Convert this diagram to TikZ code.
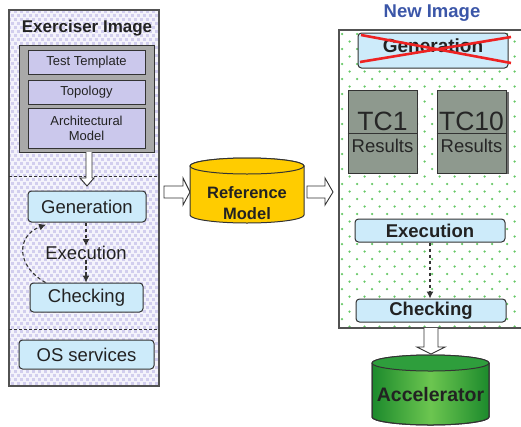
\documentclass[tikz,border=0pt]{standalone}
\usepackage{fontspec}
\setmainfont{Liberation Sans}
\usetikzlibrary{arrows.meta}

\definecolor{lavbox}{HTML}{CBC8EC}
\definecolor{lavdot}{HTML}{D2CEEE}
\definecolor{lavback}{HTML}{F4F3FB}
\definecolor{boxblue}{HTML}{CDEBFA}
\definecolor{edge}{HTML}{333333}
\definecolor{panelgray}{HTML}{A9A9A9}
\definecolor{tcgray}{HTML}{8E998E}
\definecolor{gold}{HTML}{FFCC00}
\definecolor{titleblue}{HTML}{3B56A8}
\definecolor{dotgreen}{HTML}{66C866}
\definecolor{txt}{HTML}{222222}
\definecolor{accdark}{HTML}{1C8A2C}
\definecolor{acclight}{HTML}{6CC650}
\definecolor{acctop}{HTML}{2E9E3C}
\definecolor{crossred}{HTML}{EE2222}

\tikzset{
  panel/.style={draw=edge!85, line width=1.4pt},
  divider/.style={draw=edge, dash pattern=on 3pt off 2pt, line width=0.9pt},
  toolbox/.style={draw=edge, fill=panelgray, line width=1pt, inner sep=0pt},
  lavnode/.style={draw=edge, fill=lavbox, line width=0.9pt, inner sep=0pt, align=center,
    text=txt, font=\fontsize{13}{15}\selectfont},
  stagebox/.style={draw=edge, fill=boxblue, rounded corners=3.5pt, line width=1pt,
    inner sep=0pt, text=txt, font=\fontsize{18.5}{20}\selectfont},
  boldstage/.style={stagebox, font=\bfseries\fontsize{18.5}{20}\selectfont},
  tcbox/.style={draw=edge, fill=tcgray, line width=1pt, inner sep=0pt},
  plain/.style={text=txt, inner sep=0pt},
  flow/.style={draw=edge, dash pattern=on 3.5pt off 2.5pt, line width=1.1pt,
    -{Latex[length=7pt,width=7pt]}},
  blockarrow/.style={draw=edge, fill=white, line width=0.9pt, line join=miter},
  cyl/.style={draw=edge, line width=1pt},
}

\begin{document}
\begin{tikzpicture}[x=1pt,y=-1pt]
\useasboundingbox (0,0) rectangle (521,426);

% ---------- exerciser image panel ----------
\fill[lavback] (9,10) rectangle (159,386);
\begin{scope}
  \clip (9,10) rectangle (159,386);
  \foreach \r in {0,...,94}
    \foreach \c in {0,...,25}
      \fill[lavdot] ({8+6*\c+3*mod(\r,2)},{10+4*\r}) rectangle ++(2.9,2.9);
\end{scope}
\draw[panel] (9,10) rectangle (159,386);
\draw[divider] (9,176) -- (159,176);
\draw[divider] (9,329) -- (159,329);

\node[plain, font=\bfseries\fontsize{17}{17}\selectfont] (extitle) at (87,28) {Exerciser Image};

\node[toolbox, minimum width=135pt, minimum height=107pt] (tools) at (86.5,98.5) {};
\node[lavnode, minimum width=117pt, minimum height=24pt] (tmpl) at (86.5,62) {Test Template};
\node[lavnode, minimum width=117pt, minimum height=24pt] (topo) at (86.5,92) {Topology};
\node[lavnode, minimum width=117pt, minimum height=40pt] (arch) at (86.5,128) {Architectural\\Model};

% block arrow from the tool box down to the generation stage
\draw[blockarrow] (86,152) -- (86,178) -- (80,178) -- (87,186) -- (94,178) -- (92,178) -- (92,152);

\node[stagebox, minimum width=118pt, minimum height=31pt] (genl) at (87,206.5) {Generation};
\node[plain, font=\fontsize{18.5}{20}\selectfont] (exl) at (86,253) {Execution};
\node[stagebox, minimum width=113pt, minimum height=29pt] (chkl) at (86.5,297.5) {Checking};
\node[stagebox, minimum width=135pt, minimum height=29pt] (osl) at (86.5,354.5) {OS services};

\draw[flow] (genl.south -| exl) -- (exl.north);
\draw[flow] (exl.south) -- (chkl.north -| exl);
\draw[flow] ([xshift=-41pt]chkl.north) .. controls (16,266) and (16,236) .. ([xshift=-41pt,yshift=-2pt]genl.south);

% ---------- reference model ----------
\draw[blockarrow] (164,186) -- (183,186) -- (183,178) -- (190,192) -- (183,205) -- (183,198) -- (164,198) -- cycle;

\path[cyl, fill=gold] (190,166) -- (190,215)
  arc[start angle=180, end angle=0, x radius=57, y radius=8]
  -- (304,166) arc[start angle=0, end angle=-180, x radius=57, y radius=8] -- cycle;
\draw[cyl, fill=gold] (247,166) ellipse [x radius=57, y radius=8];
\node[plain, align=center, font=\bfseries\fontsize{16.5}{21}\selectfont] (refm) at (247,203) {Reference\\Model};

\draw[blockarrow] (307,186) -- (325,186) -- (325,178) -- (333,192) -- (325,205) -- (325,198) -- (307,198) -- cycle;

% ---------- new image panel ----------
\fill[white] (339,30) rectangle (530,328);
\begin{scope}
  \clip (339,30) rectangle (530,328);
  \foreach \r in {0,...,40}
    \foreach \c in {0,...,13}
      \fill[dotgreen] ({342+15*\c+7.5*mod(\r,2)},{34+7.5*\r}) circle (1.25);
\end{scope}
\draw[panel] (530,30) -- (339,30) -- (339,328) -- (530,328);

\node[plain, text=titleblue, font=\bfseries\fontsize{18.5}{19}\selectfont] (nititle) at (432,13) {New Image};

\node[stagebox, font=\bfseries\fontsize{19}{20}\selectfont, minimum width=150pt,
  text height=19pt, text depth=16pt] (genr) at (433,50.5) {Generation};
\draw[crossred, line width=2.6pt] (361,35) -- (511,63);
\draw[crossred, line width=2.6pt] (360,62) -- (511,37);

% test case result boxes
\fill[edge!70] (506,92) rectangle (509,174);
\node[tcbox, minimum width=69pt, minimum height=83pt] (tc1) at (382.5,131.5) {};
\node[tcbox, minimum width=69pt, minimum height=83pt] (tc10) at (471.5,131.5) {};
\draw[edge, line width=0.9pt] (tc1.west |- 0,133) -- (tc1.east |- 0,133);
\draw[edge, line width=0.9pt] (tc10.west |- 0,133) -- (tc10.east |- 0,133);
\node[plain, text=black!85, font=\fontsize{26.5}{27}\selectfont] (tc1n) at (382.5,121.5) {TC1};
\node[plain, text=black!85, font=\fontsize{18.5}{19}\selectfont] (tc1r) at (382.5,145.5) {Results};
\node[plain, text=black!85, font=\fontsize{26.5}{27}\selectfont] (tc10n) at (471.5,121.5) {TC10};
\node[plain, text=black!85, font=\fontsize{18.5}{19}\selectfont] (tc10r) at (471.5,145.5) {Results};

\node[boldstage, minimum width=150pt, minimum height=23pt] (exr) at (430,230.5) {Execution};
\node[boldstage, minimum width=150pt, minimum height=23pt] (chkr) at (431,310.5) {Checking};
\draw[flow] (exr.south) -- (exr.south |- chkr.north);

% ---------- accelerator ----------
\draw[blockarrow] (424,328) -- (424,347) -- (417,347) -- (431,354) -- (445,347) -- (438,347) -- (438,328);

\path[cyl, left color=accdark, right color=accdark, middle color=acclight] (372,363) -- (372,417)
  arc[start angle=180, end angle=0, x radius=58.5, y radius=8]
  -- (489,363) arc[start angle=0, end angle=-180, x radius=58.5, y radius=8] -- cycle;
\draw[cyl] (372,363) -- (372,417)
  arc[start angle=180, end angle=0, x radius=58.5, y radius=8] -- (489,363);
\draw[cyl, fill=acctop] (430.5,363) ellipse [x radius=58.5, y radius=8];
\node[plain, font=\bfseries\fontsize{19.5}{20}\selectfont] (acc) at (430.5,395) {Accelerator};

\end{tikzpicture}
\end{document}
